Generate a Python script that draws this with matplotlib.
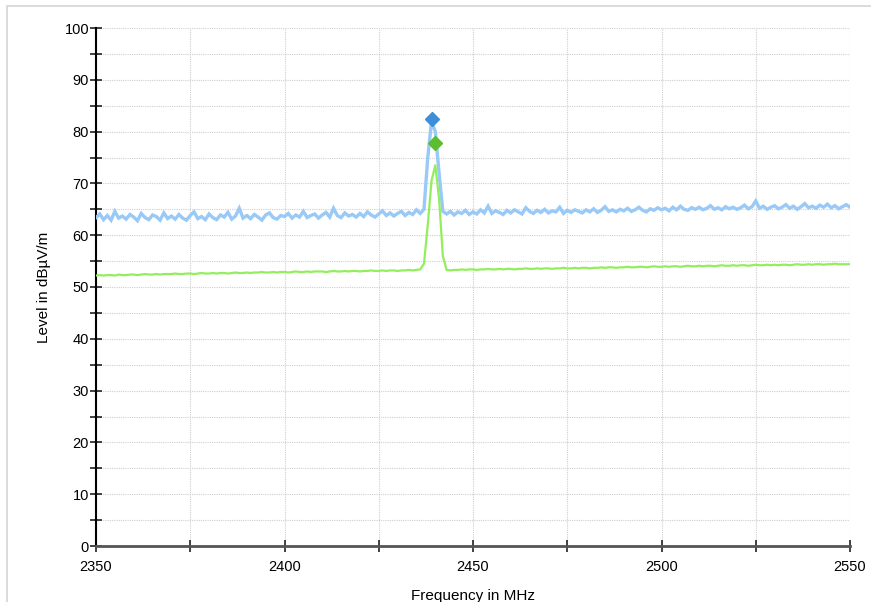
import matplotlib.pyplot as plt
import numpy as np
from matplotlib.patches import Rectangle
from matplotlib.ticker import MultipleLocator

plt.rcParams['font.family'] = ['Liberation Sans', 'DejaVu Sans']

# frequency grid of the sweep, 1 MHz steps
freq = np.arange(2350, 2551, 1)

# peak trace (blue)
peak_level = [
    63.4, 64.1, 63.0, 63.8, 62.9, 64.6, 63.3, 63.7, 63.1, 64.0,
    63.5, 62.8, 64.2, 63.4, 63.0, 63.9, 63.6, 62.9, 64.3, 63.2,
    63.7, 63.1, 64.0, 63.3, 62.9, 63.8, 64.5, 63.2, 63.6, 63.0,
    64.1, 63.4, 63.0, 63.9, 63.5, 64.4, 63.1, 63.7, 65.2, 63.3,
    63.8, 63.2, 64.0, 63.5, 62.9, 63.9, 64.3, 63.4, 63.1, 63.8,
    63.6, 64.2, 63.3, 63.9, 63.5, 64.6, 63.4, 63.8, 64.1, 63.3,
    63.9, 64.4, 63.5, 65.2, 63.8, 63.4, 64.3, 63.7, 64.0, 63.5,
    64.2, 63.6, 64.5, 63.9, 63.5, 64.1, 64.7, 63.8, 64.3, 63.7,
    64.2, 64.6, 63.8, 64.4, 64.0, 64.9, 64.2,
    65.0, 75.0, 82.0, 80.0, 72.0, 64.6,
    64.1, 64.6, 63.9, 64.5, 64.2, 64.8, 64.0,
    64.5, 64.1, 64.9, 64.3, 65.6, 64.2, 64.7, 64.4, 64.0, 64.8,
    64.3, 64.9, 64.5, 64.1, 65.3, 64.6, 64.2, 64.8, 64.4, 65.0,
    64.3, 64.7, 64.5, 65.4, 64.2, 64.8, 64.4, 64.9, 64.6, 64.3,
    64.9, 64.5, 65.1, 64.4, 64.8, 65.5, 64.6, 64.9, 64.5, 65.0,
    64.7, 65.2, 64.6, 64.9, 65.4, 64.8, 64.5, 65.1, 64.8, 65.3,
    64.9, 65.2, 64.7, 65.4, 64.9, 65.6, 65.0, 64.8, 65.3, 65.0,
    65.4, 64.9, 65.2, 65.7, 65.0, 65.3, 64.9, 65.5, 65.1, 65.4,
    65.0, 65.3, 65.8, 65.1, 65.5, 66.6, 65.2, 65.6, 65.0, 65.4,
    65.7, 65.1, 65.4, 65.9, 65.2, 65.6, 65.0, 65.5, 66.1, 65.3,
    65.6, 65.2, 65.8, 65.4, 66.0, 65.3, 65.7, 65.1, 65.5, 65.9,
    65.4,
]

# average trace (green)
avg_level = [
    52.2, 52.3, 52.2, 52.3, 52.3, 52.2, 52.4, 52.3, 52.3, 52.4,
    52.4, 52.3, 52.4, 52.5, 52.4, 52.4, 52.5, 52.4, 52.5, 52.5,
    52.5, 52.6, 52.5, 52.5, 52.6, 52.6, 52.5, 52.6, 52.7, 52.6,
    52.6, 52.7, 52.6, 52.7, 52.7, 52.6, 52.7, 52.8, 52.7, 52.7,
    52.8, 52.7, 52.8, 52.8, 52.9, 52.8, 52.8, 52.9, 52.8, 52.9,
    52.9, 52.8, 52.9, 53.0, 52.9, 52.9, 53.0, 52.9, 53.0, 53.0,
    53.0, 52.9, 53.0, 53.1, 53.0, 53.0, 53.1, 53.0, 53.1, 53.1,
    53.0, 53.1, 53.1, 53.2, 53.1, 53.1, 53.2, 53.1, 53.2, 53.2,
    53.1, 53.2, 53.2, 53.3, 53.2, 53.3, 53.4,
    54.5, 62.0, 70.5, 73.5, 67.0, 56.0,
    53.3, 53.2, 53.3, 53.3, 53.4, 53.3, 53.4,
    53.4, 53.3, 53.4, 53.4, 53.5, 53.4, 53.4, 53.5, 53.4, 53.5,
    53.5, 53.4, 53.5, 53.5, 53.6, 53.5, 53.5, 53.6, 53.5, 53.6,
    53.6, 53.5, 53.6, 53.6, 53.7, 53.6, 53.6, 53.7, 53.6, 53.7,
    53.7, 53.6, 53.7, 53.7, 53.8, 53.7, 53.8, 53.8, 53.7, 53.8,
    53.8, 53.9, 53.8, 53.8, 53.9, 53.9, 53.8, 53.9, 54.0, 53.9,
    53.9, 54.0, 53.9, 54.0, 54.0, 53.9, 54.0, 54.1, 54.0, 54.0,
    54.1, 54.0, 54.1, 54.1, 54.0, 54.1, 54.2, 54.1, 54.1, 54.2,
    54.1, 54.2, 54.2, 54.1, 54.2, 54.3, 54.2, 54.2, 54.3, 54.2,
    54.3, 54.2, 54.3, 54.3, 54.2, 54.3, 54.4, 54.3, 54.3, 54.4,
    54.3, 54.4, 54.4, 54.3, 54.4, 54.4, 54.5, 54.4, 54.4, 54.4,
    54.4,
]

# markers
peak_marker = (2439.2, 82.5)
avg_marker = (2440.0, 77.8)

fig = plt.figure(figsize=(8.71, 6.02), dpi=100)
fig.patches.append(Rectangle((7 / 871, -0.1), 1.2, 1 - 6 / 602 + 0.1,
                             transform=fig.transFigure, fill=False,
                             edgecolor='#d4d4d4', linewidth=1.2))
ax = fig.add_axes([96 / 871, 1 - 546 / 602, 754 / 871, 518 / 602])

ax.plot(freq, peak_level, color='#99c9f7', linewidth=2.4, zorder=3,
        solid_joinstyle='miter')
ax.plot(freq, avg_level, color='#93ee5e', linewidth=1.6, zorder=4)
ax.plot(*peak_marker, marker='D', color='#3d90d8', markersize=7, zorder=5)
ax.plot(*avg_marker, marker='D', color='#5cbe2e', markersize=7, zorder=5)

ax.set_xlim(2350, 2550)
ax.set_ylim(0, 100)
ax.xaxis.set_major_locator(MultipleLocator(50))
ax.xaxis.set_minor_locator(MultipleLocator(25))
ax.yaxis.set_major_locator(MultipleLocator(10))
ax.yaxis.set_minor_locator(MultipleLocator(5))
ax.grid(which='both', color='#cfcfcf', linestyle=(0, (1, 1)), linewidth=0.8)
ax.set_axisbelow(True)

for s in ['top', 'right']:
    ax.spines[s].set_visible(False)
ax.spines['left'].set_color('black')
ax.spines['left'].set_linewidth(1.5)
ax.spines['bottom'].set_color('#555555')
ax.spines['bottom'].set_linewidth(2)

ax.tick_params(which='both', direction='inout', length=8, width=1.2,
               color='#222222', labelsize=10.5, labelcolor='black')
ax.tick_params(axis='y', pad=1)
ax.tick_params(axis='x', pad=6)

ax.set_xlabel('Frequency in MHz', fontsize=11, labelpad=11)
ax.set_ylabel('Level in dBµV/m', fontsize=11, labelpad=10)

fig.savefig('out.png', dpi=100)
